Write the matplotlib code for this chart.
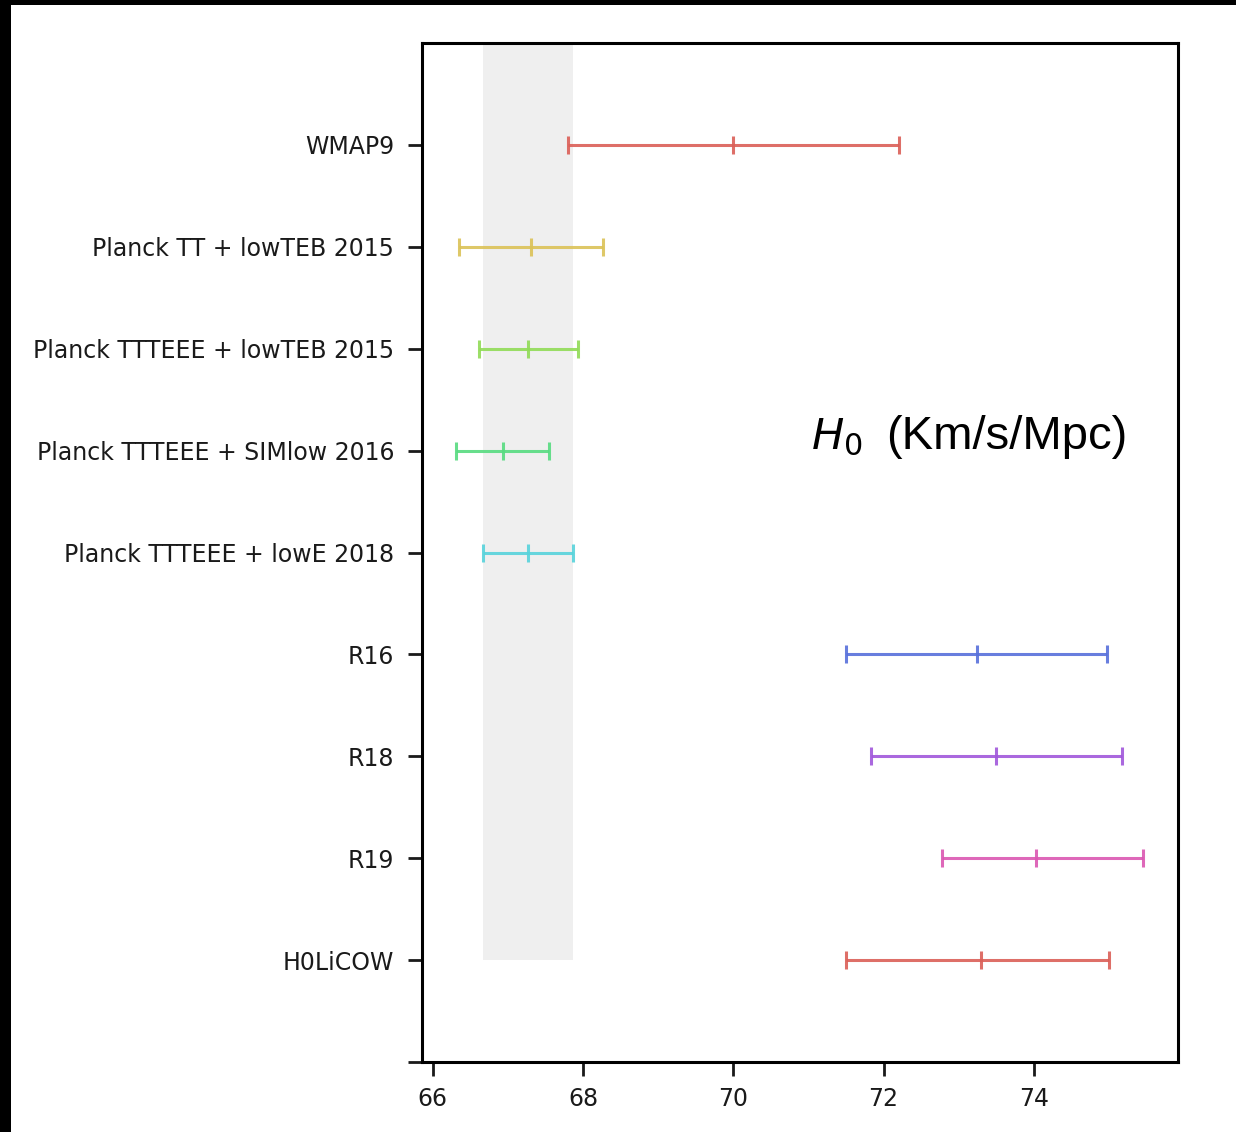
import matplotlib
matplotlib.use('Agg')
import matplotlib.pyplot as plt
from matplotlib.patches import Rectangle
import seaborn as sns

names = ['WMAP9', 'Planck TT + lowTEB 2015', 'Planck TTTEEE + lowTEB 2015',
         'Planck TTTEEE + SIMlow 2016', 'Planck TTTEEE + lowE 2018',
         'R16', 'R18', 'R19', 'H0LiCOW']
h0 = [70.0, 67.31, 67.27, 66.93, 67.27, 73.24, 73.5, 74.03, 73.3]
err_lo = [2.2, 0.96, 0.66, 0.62, 0.60, 1.74, 1.67, 1.25, 1.8]
err_hi = [2.2, 0.96, 0.66, 0.62, 0.60, 1.74, 1.67, 1.42, 1.7]

# Planck 2018 band
band_lo, band_hi = 66.67, 67.87

xticks = [66, 68, 70, 72, 74]

colors = sns.color_palette('hls', 8)

fig = plt.figure(figsize=(12.36, 11.32), dpi=100)
ax = fig.add_axes([422 / 1236, 1 - 1062 / 1132, (1178 - 422) / 1236, (1062 - 43) / 1132])

ypos = list(range(1, len(names) + 1))

ax.fill_betweenx([0, len(names)], band_lo, band_hi, color='#efefef', lw=0, zorder=0)

for i, (y, v) in enumerate(zip(ypos, h0)):
    c = colors[i % len(colors)]
    ax.errorbar(v, y, xerr=[[err_lo[i]], [err_hi[i]]], fmt='|', color=c, ecolor=c,
                elinewidth=2.2, capsize=6.5, capthick=2.2, markersize=13,
                markeredgewidth=2.2, alpha=0.9)

ax.set_xlim(65.857, 75.92)
ax.set_ylim(len(names) + 1, 0)
ax.set_yticks(ypos + [len(names) + 1])
ax.set_yticklabels(names + [''])
ax.set_xticks(xticks)
ax.set_xticklabels([str(t) for t in xticks])

ax.tick_params(axis='both', labelsize=17, length=10, width=2, colors='#1a1a1a')
ax.tick_params(axis='y', pad=10)
ax.tick_params(axis='x', pad=8)
for s in ax.spines.values():
    s.set_linewidth(2.2)
    s.set_color('black')

# unit label
fig.text(811 / 1236, 1 - 449 / 1132, r'$H_0$', fontsize=31, va='baseline', ha='left')
fig.text(886 / 1236, 1 - 449 / 1132, '(Km/s/Mpc)', fontsize=34, va='baseline', ha='left',
         family='Liberation Sans')

# black frame strips on top and left
fig.add_artist(Rectangle((0, 1 - 5 / 1132), 1, 5 / 1132, transform=fig.transFigure,
                         color='black', lw=0))
fig.add_artist(Rectangle((0, 0), 11 / 1236, 1, transform=fig.transFigure,
                         color='black', lw=0))

fig.savefig('out.png', dpi=100)
